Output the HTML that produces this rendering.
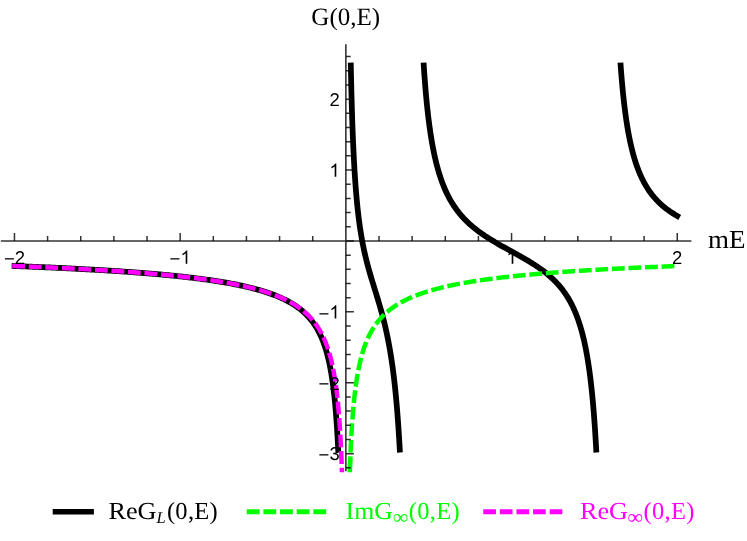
<!DOCTYPE html>
<html><head><meta charset="utf-8"><title>G(0,E)</title>
<style>html,body{margin:0;padding:0;background:#fff}svg{display:block;will-change:transform;transform:translateZ(0)}text{text-rendering:geometricPrecision}</style></head>
<body><svg width="747" height="541" viewBox="0 0 747 541">
<defs><clipPath id="cp"><rect x="0" y="0" width="747" height="472.2"/></clipPath></defs><g>
<path d="M11.662,265.911 L14.460,266.017 L16.015,266.076 L17.571,266.135 L19.126,266.195 L20.681,266.256 L22.237,266.316 L23.792,266.378 L25.347,266.439 L26.902,266.501 L28.458,266.564 L30.013,266.627 L31.568,266.690 L33.124,266.754 L34.679,266.819 L36.234,266.883 L37.790,266.949 L39.345,267.015 L40.900,267.081 L42.456,267.148 L44.011,267.215 L45.566,267.283 L47.122,267.352 L48.677,267.421 L50.232,267.490 L51.787,267.560 L53.343,267.631 L54.898,267.702 L56.453,267.774 L58.009,267.846 L59.564,267.919 L61.119,267.993 L62.675,268.067 L64.230,268.142 L65.785,268.217 L67.341,268.293 L68.896,268.370 L70.451,268.447 L72.007,268.525 L73.562,268.604 L75.117,268.683 L76.672,268.763 L78.228,268.844 L79.783,268.925 L81.338,269.008 L82.894,269.090 L84.449,269.174 L86.004,269.258 L87.560,269.343 L89.115,269.429 L90.670,269.516 L92.226,269.603 L93.781,269.692 L95.336,269.781 L96.892,269.871 L98.447,269.962 L100.002,270.053 L101.557,270.146 L103.113,270.239 L104.668,270.333 L106.223,270.429 L107.779,270.525 L109.334,270.622 L110.889,270.720 L112.445,270.819 L114.000,270.919 L115.555,271.020 L117.111,271.122 L118.666,271.225 L120.221,271.329 L121.777,271.435 L123.332,271.541 L124.887,271.648 L126.442,271.757 L127.998,271.867 L129.553,271.978 L131.108,272.090 L132.664,272.203 L134.219,272.318 L135.774,272.434 L137.330,272.551 L138.885,272.670 L140.440,272.790 L141.996,272.911 L143.551,273.034 L145.106,273.158 L146.662,273.283 L148.217,273.410 L149.772,273.539 L151.327,273.669 L152.883,273.801 L154.438,273.934 L155.993,274.069 L157.549,274.205 L159.104,274.343 L160.659,274.483 L162.215,274.625 L163.770,274.769 L165.325,274.914 L166.881,275.062 L168.436,275.211 L169.991,275.362 L171.547,275.515 L173.102,275.671 L174.657,275.828 L176.212,275.988 L177.768,276.150 L179.323,276.314 L180.878,276.480 L182.434,276.649 L183.989,276.820 L185.544,276.994 L187.100,277.171 L188.655,277.349 L190.210,277.531 L191.766,277.715 L193.321,277.903 L194.876,278.093 L196.432,278.286 L197.987,278.482 L199.542,278.681 L201.097,278.884 L202.653,279.089 L204.208,279.299 L205.763,279.511 L207.319,279.728 L208.874,279.948 L210.429,280.171 L211.985,280.399 L213.540,280.631 L215.095,280.867 L216.651,281.107 L218.206,281.351 L219.761,281.600 L221.316,281.854 L222.872,282.113 L224.427,282.376 L225.982,282.645 L227.538,282.919 L229.093,283.199 L230.648,283.484 L232.204,283.775 L233.759,284.073 L235.314,284.376 L236.870,284.687 L238.425,285.004 L239.980,285.328 L241.536,285.659 L243.091,285.998 L244.646,286.345 L246.201,286.700 L247.757,287.064 L249.312,287.436 L250.867,287.818 L252.423,288.210 L253.978,288.612 L255.533,289.024 L257.089,289.447 L258.644,289.882 L260.199,290.329 L261.755,290.788 L263.310,291.261 L264.865,291.748 L266.421,292.250 L267.846,292.723 L269.272,293.210 L270.698,293.711 L272.123,294.227 L273.549,294.758 L274.975,295.307 L276.400,295.873 L277.826,296.457 L279.252,297.061 L280.678,297.685 L282.103,298.332 L283.529,299.001 L284.955,299.695 L286.380,300.416 L287.806,301.164 L289.232,301.942 L290.657,302.752 L291.954,303.518 L293.250,304.314 L294.546,305.143 L295.842,306.006 L297.138,306.905 L298.434,307.845 L299.730,308.828 L301.026,309.856 L302.193,310.825 L303.359,311.837 L304.526,312.896 L305.692,314.006 L306.859,315.171 L307.896,316.257 L308.932,317.393 L309.969,318.585 L311.006,319.837 L312.043,321.153 L312.950,322.363 L313.858,323.631 L314.765,324.963 L315.672,326.364 L316.579,327.839 L317.357,329.169 L318.135,330.563 L318.912,332.028 L319.690,333.570 L320.468,335.194 L321.116,336.617 L321.764,338.108 L322.412,339.672 L323.060,341.316 L323.708,343.046 L324.226,344.497 L324.745,346.013 L325.263,347.597 L325.782,349.256 L326.300,350.996 L326.818,352.821 L327.337,354.741 L327.726,356.247 L328.115,357.814 L328.503,359.445 L328.892,361.146 L329.281,362.921 L329.670,364.775 L330.059,366.715 L330.448,368.745 L330.836,370.875 L331.096,372.353 L331.355,373.880 L331.614,375.461 L331.873,377.096 L332.132,378.790 L332.392,380.545 L332.651,382.366 L332.910,384.256 L333.169,386.219 L333.429,388.261 L333.688,390.385 L333.947,392.597 L334.206,394.904 L334.465,397.311 L334.725,399.826 L334.984,402.456 L335.243,405.209 L335.502,408.095 L335.632,409.591 L335.762,411.124 L335.891,412.695 L336.021,414.307 L336.150,415.960 L336.280,417.657 L336.410,419.398 L336.539,421.187 L336.669,423.024 L336.798,424.913 L336.928,426.855 L337.058,428.852 L337.187,430.908 L337.317,433.024 L337.446,435.203 L337.576,437.450 L337.706,439.766 L337.835,442.154 L337.965,444.620 L338.095,447.166 L338.224,449.796 L338.354,452.516" stroke="#000" stroke-width="5.75" fill="none" stroke-linejoin="round"/>
<path d="M350.744,62.636 L350.784,64.587 L350.823,66.506 L350.863,68.396 L350.902,70.257 L350.941,72.089 L350.981,73.894 L351.020,75.672 L351.059,77.423 L351.099,79.148 L351.138,80.848 L351.178,82.523 L351.217,84.174 L351.256,85.802 L351.296,87.406 L351.335,88.988 L351.374,90.547 L351.414,92.085 L351.453,93.601 L351.512,95.838 L351.571,98.028 L351.630,100.175 L351.689,102.279 L351.748,104.342 L351.807,106.365 L351.866,108.349 L351.925,110.296 L351.985,112.205 L352.044,114.079 L352.103,115.919 L352.162,117.725 L352.221,119.498 L352.280,121.239 L352.339,122.950 L352.398,124.631 L352.457,126.282 L352.516,127.905 L352.575,129.500 L352.634,131.068 L352.693,132.610 L352.752,134.126 L352.831,136.109 L352.910,138.049 L352.988,139.948 L353.067,141.807 L353.146,143.627 L353.225,145.409 L353.303,147.155 L353.382,148.866 L353.461,150.543 L353.540,152.187 L353.618,153.799 L353.697,155.379 L353.776,156.930 L353.854,158.452 L353.953,160.314 L354.051,162.133 L354.150,163.911 L354.248,165.650 L354.347,167.350 L354.445,169.013 L354.543,170.640 L354.642,172.233 L354.740,173.793 L354.839,175.320 L354.957,177.112 L355.075,178.860 L355.193,180.567 L355.311,182.234 L355.429,183.863 L355.547,185.455 L355.665,187.011 L355.783,188.532 L355.921,190.265 L356.059,191.955 L356.197,193.604 L356.335,195.213 L356.472,196.783 L356.610,198.317 L356.748,199.815 L356.905,201.486 L357.063,203.114 L357.220,204.701 L357.378,206.250 L357.535,207.761 L357.712,209.418 L357.890,211.032 L358.067,212.605 L358.244,214.138 L358.421,215.633 L358.618,217.251 L358.815,218.828 L359.012,220.363 L359.208,221.860 L359.425,223.464 L359.641,225.026 L359.858,226.547 L360.094,228.162 L360.330,229.734 L360.566,231.264 L360.803,232.756 L361.059,234.329 L361.314,235.862 L361.570,237.355 L361.846,238.921 L362.121,240.447 L362.397,241.934 L362.692,243.487 L362.988,245.001 L363.283,246.478 L363.598,248.014 L363.913,249.514 L364.247,251.068 L364.582,252.585 L364.917,254.067 L365.271,255.601 L365.625,257.101 L365.979,258.568 L366.353,260.085 L366.727,261.571 L367.101,263.028 L367.495,264.534 L367.889,266.012 L368.282,267.464 L368.696,268.965 L369.109,270.443 L369.522,271.899 L369.955,273.404 L370.389,274.890 L370.822,276.359 L371.255,277.813 L371.688,279.255 L372.140,280.749 L372.593,282.233 L373.046,283.709 L373.498,285.178 L373.951,286.642 L374.404,288.104 L374.857,289.563 L375.309,291.023 L375.762,292.485 L376.215,293.950 L376.668,295.421 L377.120,296.899 L377.573,298.385 L378.026,299.881 L378.459,301.323 L378.892,302.777 L379.325,304.246 L379.758,305.729 L380.191,307.230 L380.604,308.679 L381.018,310.147 L381.431,311.635 L381.844,313.144 L382.238,314.603 L382.632,316.083 L383.025,317.588 L383.399,319.041 L383.773,320.517 L384.147,322.020 L384.521,323.550 L384.875,325.025 L385.230,326.528 L385.584,328.059 L385.919,329.533 L386.253,331.036 L386.588,332.567 L386.903,334.037 L387.218,335.537 L387.533,337.066 L387.848,338.627 L388.143,340.120 L388.438,341.644 L388.733,343.200 L389.009,344.681 L389.285,346.193 L389.560,347.737 L389.836,349.313 L390.092,350.807 L390.347,352.332 L390.603,353.889 L390.859,355.478 L391.095,356.977 L391.332,358.505 L391.568,360.065 L391.804,361.659 L392.021,363.149 L392.237,364.669 L392.454,366.220 L392.670,367.803 L392.887,369.419 L393.083,370.919 L393.280,372.447 L393.477,374.006 L393.674,375.596 L393.871,377.219 L394.068,378.876 L394.245,380.397 L394.422,381.947 L394.599,383.527 L394.776,385.138 L394.953,386.782 L395.131,388.459 L395.288,389.979 L395.445,391.526 L395.603,393.103 L395.760,394.709 L395.918,396.346 L396.075,398.015 L396.233,399.716 L396.371,401.233 L396.508,402.776 L396.646,404.346 L396.784,405.945 L396.922,407.572 L397.060,409.230 L397.197,410.918 L397.335,412.638 L397.453,414.138 L397.571,415.663 L397.689,417.212 L397.807,418.788 L397.926,420.391 L398.044,422.020 L398.162,423.678 L398.280,425.365 L398.398,427.081 L398.516,428.828 L398.634,430.606 L398.733,432.112 L398.831,433.642 L398.929,435.194 L399.028,436.771 L399.126,438.372 L399.225,439.999 L399.323,441.652 L399.422,443.331 L399.520,445.037 L399.618,446.771 L399.717,448.533 L399.815,450.325 L399.914,452.148 L399.933,452.516" stroke="#000" stroke-width="5.75" fill="none" stroke-linejoin="round"/>
<path d="M423.571,62.636 L423.709,64.800 L423.848,66.917 L423.986,68.989 L424.124,71.017 L424.263,73.002 L424.401,74.946 L424.539,76.851 L424.677,78.716 L424.816,80.545 L424.954,82.337 L425.092,84.094 L425.231,85.816 L425.369,87.506 L425.507,89.164 L425.645,90.790 L425.784,92.385 L425.922,93.952 L426.060,95.489 L426.199,96.999 L426.406,99.213 L426.613,101.369 L426.821,103.468 L427.028,105.513 L427.236,107.506 L427.443,109.450 L427.651,111.345 L427.858,113.195 L428.065,114.999 L428.273,116.761 L428.480,118.482 L428.688,120.162 L428.895,121.805 L429.103,123.410 L429.310,124.979 L429.518,126.514 L429.725,128.015 L430.002,129.966 L430.278,131.863 L430.555,133.707 L430.831,135.500 L431.108,137.246 L431.384,138.944 L431.661,140.599 L431.938,142.211 L432.214,143.781 L432.491,145.313 L432.767,146.806 L433.113,148.622 L433.459,150.384 L433.804,152.094 L434.150,153.754 L434.496,155.368 L434.842,156.936 L435.187,158.460 L435.533,159.944 L435.948,161.672 L436.363,163.346 L436.778,164.968 L437.193,166.541 L437.607,168.067 L438.022,169.548 L438.506,171.223 L438.990,172.843 L439.474,174.410 L439.958,175.928 L440.442,177.399 L440.926,178.825 L441.480,180.403 L442.033,181.928 L442.586,183.403 L443.139,184.831 L443.761,186.383 L444.384,187.882 L445.006,189.331 L445.628,190.731 L446.320,192.234 L447.011,193.684 L447.703,195.085 L448.394,196.438 L449.155,197.876 L449.915,199.263 L450.676,200.602 L451.436,201.896 L452.266,203.260 L453.096,204.577 L453.926,205.849 L454.824,207.179 L455.723,208.463 L456.622,209.703 L457.590,210.993 L458.558,212.239 L459.526,213.443 L460.494,214.607 L461.531,215.814 L462.569,216.980 L463.606,218.110 L464.643,219.204 L465.749,220.335 L466.856,221.431 L467.962,222.494 L469.068,223.526 L470.244,224.590 L471.419,225.624 L472.595,226.629 L473.770,227.606 L474.946,228.559 L476.190,229.541 L477.435,230.499 L478.679,231.433 L479.924,232.345 L481.169,233.237 L482.413,234.110 L483.658,234.965 L484.902,235.803 L486.216,236.672 L487.530,237.523 L488.844,238.360 L490.157,239.184 L491.471,239.994 L492.785,240.793 L494.099,241.581 L495.412,242.359 L496.726,243.128 L498.040,243.889 L499.354,244.643 L500.667,245.390 L501.981,246.132 L503.295,246.868 L504.609,247.601 L505.922,248.330 L507.236,249.056 L508.550,249.780 L509.933,250.542 L511.316,251.302 L512.698,252.063 L514.081,252.825 L515.395,253.550 L516.709,254.279 L518.023,255.010 L519.336,255.745 L520.650,256.485 L521.964,257.231 L523.278,257.983 L524.591,258.742 L525.905,259.509 L527.219,260.285 L528.533,261.071 L529.846,261.868 L531.160,262.677 L532.474,263.499 L533.788,264.335 L535.101,265.187 L536.415,266.055 L537.660,266.894 L538.904,267.750 L540.149,268.625 L541.393,269.520 L542.638,270.437 L543.883,271.377 L545.127,272.341 L546.303,273.276 L547.478,274.237 L548.654,275.225 L549.829,276.242 L551.005,277.290 L552.111,278.307 L553.217,279.355 L554.324,280.437 L555.430,281.556 L556.536,282.712 L557.573,283.834 L558.611,284.995 L559.648,286.197 L560.616,287.359 L561.584,288.563 L562.552,289.810 L563.520,291.104 L564.419,292.351 L565.318,293.644 L566.216,294.987 L567.046,296.273 L567.876,297.607 L568.706,298.992 L569.466,300.309 L570.227,301.675 L570.987,303.093 L571.679,304.429 L572.370,305.814 L573.062,307.249 L573.753,308.740 L574.375,310.130 L574.998,311.570 L575.620,313.062 L576.242,314.610 L576.796,316.036 L577.349,317.510 L577.902,319.037 L578.455,320.619 L578.939,322.051 L579.423,323.529 L579.907,325.057 L580.391,326.637 L580.875,328.272 L581.290,329.719 L581.705,331.211 L582.120,332.750 L582.535,334.338 L582.949,335.978 L583.364,337.672 L583.779,339.423 L584.125,340.928 L584.471,342.477 L584.816,344.072 L585.162,345.715 L585.508,347.408 L585.853,349.153 L586.199,350.953 L586.476,352.435 L586.752,353.955 L587.029,355.516 L587.306,357.118 L587.582,358.763 L587.859,360.454 L588.135,362.192 L588.412,363.979 L588.688,365.818 L588.965,367.711 L589.242,369.659 L589.449,371.159 L589.656,372.693 L589.864,374.263 L590.071,375.869 L590.279,377.513 L590.486,379.197 L590.694,380.922 L590.901,382.688 L591.108,384.499 L591.316,386.356 L591.523,388.260 L591.731,390.213 L591.938,392.218 L592.146,394.276 L592.353,396.390 L592.561,398.562 L592.768,400.794 L592.906,402.316 L593.045,403.868 L593.183,405.449 L593.321,407.061 L593.459,408.703 L593.598,410.379 L593.736,412.087 L593.874,413.830 L594.013,415.608 L594.151,417.423 L594.289,419.275 L594.427,421.166 L594.566,423.097 L594.704,425.069 L594.842,427.084 L594.981,429.142 L595.119,431.247 L595.257,433.398 L595.395,435.599 L595.534,437.849 L595.672,440.152 L595.810,442.509 L595.949,444.921 L596.087,447.392 L596.225,449.923 L596.363,452.516" stroke="#000" stroke-width="5.75" fill="none" stroke-linejoin="round"/>
<path d="M620.441,62.636 L620.555,64.235 L620.668,65.805 L620.782,67.349 L620.896,68.867 L621.032,70.655 L621.169,72.407 L621.305,74.125 L621.441,75.809 L621.578,77.461 L621.714,79.082 L621.851,80.672 L621.987,82.232 L622.123,83.763 L622.260,85.267 L622.419,86.986 L622.578,88.669 L622.737,90.317 L622.897,91.932 L623.056,93.514 L623.215,95.063 L623.374,96.583 L623.556,98.282 L623.738,99.944 L623.920,101.569 L624.102,103.159 L624.283,104.715 L624.465,106.238 L624.647,107.729 L624.852,109.369 L625.057,110.972 L625.261,112.537 L625.466,114.068 L625.670,115.565 L625.898,117.189 L626.125,118.774 L626.353,120.321 L626.580,121.832 L626.830,123.453 L627.080,125.034 L627.330,126.575 L627.580,128.078 L627.853,129.677 L628.126,131.234 L628.399,132.750 L628.672,134.229 L628.967,135.788 L629.263,137.306 L629.558,138.784 L629.877,140.333 L630.195,141.840 L630.536,143.408 L630.877,144.931 L631.218,146.412 L631.582,147.946 L631.946,149.435 L632.332,150.971 L632.719,152.460 L633.128,153.989 L633.537,155.472 L633.969,156.988 L634.401,158.456 L634.856,159.954 L635.311,161.403 L635.788,162.876 L636.266,164.302 L636.766,165.747 L637.289,167.207 L637.812,168.618 L638.358,170.042 L638.926,171.474 L639.517,172.911 L640.108,174.298 L640.722,175.688 L641.359,177.078 L642.018,178.466 L642.700,179.850 L643.405,181.226 L644.110,182.552 L644.837,183.870 L645.588,185.180 L646.361,186.479 L647.157,187.765 L647.975,189.039 L648.816,190.298 L649.680,191.542 L650.567,192.770 L651.477,193.981 L652.409,195.174 L653.364,196.350 L654.341,197.508 L655.342,198.646 L656.365,199.767 L657.411,200.868 L658.479,201.950 L659.571,203.013 L660.685,204.057 L661.799,205.062 L662.936,206.050 L664.095,207.021 L665.278,207.975 L666.483,208.912 L667.688,209.815 L668.916,210.703 L670.166,211.576 L671.417,212.419 L672.690,213.248 L673.963,214.049 L675.259,214.839 L676.555,215.602 L677.260,216.007 L679.688,217.403" stroke="#000" stroke-width="5.75" fill="none" stroke-linejoin="round"/>
<path d="M349.939,466.900 L349.999,465.259 L350.059,463.642 L350.120,462.049 L350.181,460.478 L350.243,458.929 L350.305,457.401 L350.367,455.895 L350.430,454.410 L350.493,452.945 L350.557,451.500 L350.621,450.075 L350.686,448.669 L350.751,447.282 L350.817,445.913 L350.883,444.562 L350.949,443.229 L351.016,441.913 L351.083,440.614 L351.151,439.332 L351.219,438.066 L351.288,436.816 L351.357,435.582 L351.426,434.364 L351.496,433.160 L351.567,431.972 L351.638,430.798 L351.709,429.638 L351.780,428.493 L351.853,427.361 L351.925,426.243 L351.998,425.138 L352.071,424.047 L352.145,422.968 L352.220,421.902 L352.294,420.848 L352.369,419.806 L352.445,418.777 L352.521,417.759 L352.598,416.753 L352.674,415.758 L352.752,414.775 L352.830,413.802 L352.908,412.840 L352.986,411.889 L353.066,410.948 L353.145,410.018 L353.225,409.098 L353.305,408.188 L353.386,407.287 L353.467,406.396 L353.549,405.515 L353.631,404.643 L353.714,403.780 L353.797,402.926 L353.880,402.082 L353.964,401.246 L354.049,400.418 L354.133,399.599 L354.219,398.789 L354.304,397.986 L354.390,397.192 L354.477,396.406 L354.564,395.627 L354.651,394.857 L354.739,394.094 L354.827,393.339 L354.916,392.590 L355.005,391.850 L355.094,391.116 L355.184,390.390 L355.275,389.670 L355.366,388.958 L355.457,388.252 L355.549,387.553 L355.641,386.861 L355.734,386.175 L355.827,385.495 L355.920,384.822 L356.014,384.155 L356.108,383.494 L356.203,382.840 L356.298,382.191 L356.394,381.548 L356.490,380.911 L356.587,380.280 L356.684,379.654 L356.781,379.034 L356.879,378.420 L356.977,377.811 L357.076,377.207 L357.175,376.609 L357.275,376.016 L357.375,375.428 L357.475,374.845 L357.576,374.267 L357.677,373.694 L357.779,373.126 L357.881,372.563 L357.984,372.005 L358.087,371.451 L358.191,370.902 L358.295,370.358 L358.399,369.818 L358.504,369.283 L358.609,368.752 L358.715,368.225 L358.821,367.703 L358.928,367.185 L359.035,366.672 L359.142,366.162 L359.250,365.657 L359.358,365.155 L359.467,364.658 L359.576,364.164 L359.686,363.675 L359.796,363.189 L359.906,362.708 L360.017,362.230 L360.129,361.755 L360.240,361.285 L360.353,360.818 L360.465,360.355 L360.579,359.895 L360.692,359.439 L360.806,358.986 L360.921,358.537 L361.035,358.091 L361.151,357.648 L361.266,357.209 L361.383,356.773 L361.499,356.341 L361.616,355.911 L361.734,355.485 L361.852,355.062 L361.970,354.642 L362.089,354.225 L362.208,353.811 L362.328,353.400 L362.448,352.993 L362.568,352.588 L362.689,352.186 L362.811,351.787 L362.933,351.390 L363.055,350.997 L363.178,350.606 L363.301,350.218 L363.424,349.833 L363.548,349.451 L363.673,349.071 L363.798,348.694 L363.923,348.320 L364.049,347.948 L364.175,347.578 L364.302,347.212 L364.429,346.847 L364.556,346.486 L364.684,346.126 L364.813,345.769 L364.942,345.415 L365.071,345.063 L365.200,344.713 L365.331,344.366 L365.461,344.021 L365.592,343.678 L365.724,343.338 L365.856,342.999 L365.988,342.663 L366.121,342.330 L366.254,341.998 L366.387,341.669 L366.522,341.341 L366.656,341.016 L366.791,340.693 L366.926,340.372 L367.062,340.053 L367.198,339.736 L367.335,339.421 L367.472,339.108 L367.610,338.798 L367.748,338.489 L367.886,338.182 L368.025,337.877 L368.164,337.573 L368.304,337.272 L368.444,336.973 L368.585,336.675 L368.726,336.380 L368.867,336.086 L369.009,335.794 L369.152,335.503 L369.295,335.215 L369.438,334.928 L369.581,334.643 L369.726,334.360 L369.870,334.078 L370.015,333.798 L370.160,333.520 L370.306,333.243 L370.453,332.969 L370.599,332.695 L370.746,332.424 L370.894,332.154 L371.042,331.885 L371.191,331.618 L371.339,331.353 L371.489,331.089 L371.639,330.827 L371.789,330.566 L371.939,330.307 L372.091,330.049 L372.242,329.793 L372.394,329.538 L372.546,329.285 L372.699,329.033 L372.853,328.783 L373.006,328.534 L373.160,328.286 L373.315,328.040 L373.470,327.795 L373.625,327.551 L373.781,327.309 L373.938,327.069 L374.094,326.829 L374.252,326.591 L374.409,326.354 L374.567,326.119 L374.726,325.885 L374.885,325.652 L375.044,325.420 L375.204,325.190 L375.364,324.961 L375.525,324.733 L375.686,324.506 L375.848,324.281 L376.010,324.057 L376.172,323.834 L376.335,323.612 L376.498,323.392 L376.662,323.172 L376.826,322.954 L376.991,322.737 L377.156,322.521 L377.321,322.306 L377.487,322.092 L377.654,321.880 L377.820,321.668 L377.988,321.458 L378.155,321.249 L378.323,321.041 L378.492,320.833 L378.661,320.627 L378.830,320.422 L379.000,320.218 L379.170,320.016 L379.341,319.814 L379.512,319.613 L379.684,319.413 L379.856,319.214 L380.028,319.017 L380.201,318.820 L380.375,318.624 L380.548,318.429 L380.723,318.235 L380.897,318.043 L381.072,317.851 L381.248,317.660 L381.424,317.470 L381.600,317.281 L381.777,317.092 L381.954,316.905 L382.132,316.719 L382.310,316.534 L382.489,316.349 L382.668,316.166 L382.847,315.983 L383.027,315.801 L383.207,315.620 L383.388,315.440 L383.569,315.261 L383.751,315.083 L383.933,314.905 L384.116,314.729 L384.299,314.553 L384.482,314.378 L384.666,314.204 L384.850,314.030 L385.035,313.858 L385.220,313.686 L385.405,313.515 L385.591,313.345 L385.778,313.176 L385.965,313.008 L386.152,312.840 L386.340,312.673 L386.528,312.507 L386.717,312.342 L386.906,312.177 L387.095,312.013 L387.285,311.850 L388.255,311.034 L389.225,310.246 L390.194,309.484 L391.164,308.747 L392.134,308.032 L393.104,307.340 L394.074,306.669 L395.044,306.018 L396.013,305.386 L396.983,304.772 L397.953,304.175 L398.923,303.594 L399.893,303.030 L400.862,302.480 L401.832,301.945 L402.802,301.423 L403.772,300.914 L404.742,300.419 L405.712,299.935 L406.681,299.463 L407.651,299.002 L408.621,298.551 L409.591,298.111 L410.561,297.681 L411.530,297.261 L412.500,296.850 L413.470,296.447 L414.440,296.054 L415.410,295.668 L416.379,295.290 L417.349,294.921 L418.319,294.558 L419.289,294.203 L420.259,293.855 L421.229,293.513 L422.198,293.178 L423.168,292.850 L424.138,292.527 L425.108,292.211 L426.078,291.900 L427.047,291.595 L428.017,291.295 L428.987,291.000 L429.957,290.711 L430.927,290.426 L431.897,290.147 L432.866,289.872 L433.836,289.601 L434.806,289.335 L435.776,289.074 L436.746,288.816 L437.715,288.563 L438.685,288.314 L439.655,288.068 L440.625,287.826 L441.595,287.588 L442.565,287.354 L443.534,287.123 L444.504,286.895 L445.474,286.671 L446.444,286.450 L447.414,286.232 L448.383,286.018 L449.353,285.806 L450.323,285.597 L451.293,285.392 L452.263,285.189 L453.232,284.988 L454.202,284.791 L455.172,284.596 L456.142,284.404 L457.112,284.214 L458.082,284.026 L459.051,283.841 L460.021,283.659 L460.991,283.479 L461.961,283.301 L462.931,283.125 L463.900,282.951 L464.870,282.780 L465.840,282.610 L466.810,282.443 L467.780,282.278 L468.750,282.114 L469.719,281.953 L470.689,281.793 L471.659,281.635 L472.629,281.480 L473.599,281.325 L474.568,281.173 L475.538,281.022 L476.508,280.873 L477.478,280.726 L478.448,280.580 L479.418,280.436 L480.387,280.293 L481.357,280.152 L482.327,280.013 L483.297,279.875 L484.267,279.738 L485.236,279.603 L486.206,279.469 L487.176,279.337 L488.146,279.206 L489.116,279.076 L490.086,278.948 L491.055,278.821 L492.025,278.695 L492.995,278.570 L493.965,278.447 L494.935,278.325 L495.904,278.204 L496.874,278.084 L497.844,277.965 L498.814,277.848 L499.784,277.731 L500.753,277.616 L501.723,277.502 L502.693,277.388 L503.663,277.276 L504.633,277.165 L505.603,277.055 L506.572,276.946 L507.542,276.838 L508.512,276.731 L509.482,276.624 L510.452,276.519 L511.421,276.415 L512.391,276.311 L513.361,276.209 L514.331,276.107 L515.301,276.007 L516.271,275.907 L517.240,275.808 L518.210,275.709 L519.180,275.612 L520.150,275.515 L521.120,275.420 L522.089,275.325 L523.059,275.230 L524.029,275.137 L524.999,275.044 L525.969,274.952 L526.939,274.861 L527.908,274.771 L528.878,274.681 L529.848,274.592 L530.818,274.504 L531.788,274.416 L532.757,274.329 L533.727,274.243 L534.697,274.157 L535.667,274.072 L536.637,273.988 L537.606,273.904 L538.576,273.821 L539.546,273.739 L540.516,273.657 L541.486,273.576 L542.456,273.495 L543.425,273.415 L544.395,273.336 L545.365,273.257 L546.335,273.179 L547.305,273.101 L548.274,273.024 L549.244,272.948 L550.214,272.872 L551.184,272.796 L552.154,272.721 L553.124,272.647 L554.093,272.573 L555.063,272.500 L556.033,272.427 L557.003,272.354 L557.973,272.282 L558.942,272.211 L559.912,272.140 L560.882,272.070 L561.852,272.000 L562.822,271.930 L563.792,271.861 L564.761,271.793 L565.731,271.725 L566.701,271.657 L567.671,271.590 L568.641,271.523 L569.610,271.457 L570.580,271.391 L571.550,271.325 L572.520,271.260 L573.490,271.196 L574.459,271.131 L575.429,271.068 L576.399,271.004 L577.369,270.941 L578.339,270.879 L579.309,270.816 L580.278,270.754 L581.248,270.693 L582.218,270.632 L583.188,270.571 L584.158,270.511 L585.127,270.451 L586.097,270.391 L587.067,270.332 L588.037,270.273 L589.007,270.215 L589.977,270.156 L590.946,270.099 L591.916,270.041 L592.886,269.984 L593.856,269.927 L594.826,269.871 L595.795,269.814 L596.765,269.759 L597.735,269.703 L598.705,269.648 L599.675,269.593 L600.645,269.538 L601.614,269.484 L602.584,269.430 L603.554,269.377 L604.524,269.323 L605.494,269.270 L606.463,269.218 L607.433,269.165 L608.403,269.113 L609.373,269.061 L610.343,269.009 L611.313,268.958 L612.282,268.907 L613.252,268.856 L614.222,268.806 L615.192,268.756 L616.162,268.706 L617.131,268.656 L618.101,268.607 L619.071,268.558 L620.041,268.509 L621.011,268.460 L621.980,268.412 L622.950,268.364 L623.920,268.316 L624.890,268.268 L625.860,268.221 L626.830,268.174 L627.799,268.127 L628.769,268.080 L629.739,268.034 L630.709,267.988 L631.679,267.942 L632.648,267.896 L633.618,267.851 L634.588,267.805 L635.558,267.760 L636.528,267.716 L637.498,267.671 L638.467,267.627 L639.437,267.583 L640.407,267.539 L641.377,267.495 L642.347,267.452 L643.316,267.409 L644.286,267.366 L645.256,267.323 L646.226,267.280 L647.196,267.238 L648.166,267.195 L649.135,267.153 L650.105,267.112 L651.075,267.070 L652.045,267.029 L653.015,266.987 L653.984,266.946 L654.954,266.906 L655.924,266.865 L656.894,266.825 L657.864,266.784 L658.833,266.744 L659.803,266.704 L660.773,266.665 L661.743,266.625 L662.713,266.586 L663.683,266.547 L664.652,266.508 L665.622,266.469 L666.592,266.430 L667.562,266.392 L668.532,266.354 L669.501,266.316 L670.471,266.278 L671.441,266.240 L672.411,266.202 L673.381,266.165 L674.351,266.128 L675.320,266.091 L676.290,266.054 L677.260,266.017" stroke="#00ff00" stroke-width="4.5" fill="none" clip-path="url(#cp)" stroke-dasharray="8.33 8.23" stroke-linecap="square" stroke-linejoin="round"/>
<path d="M349.829,470.000 L349.889,468.304 L349.948,466.633 L350.009,464.986 L350.070,463.363 L350.131,461.763 L350.192,460.187" stroke="#00ff00" stroke-width="4.5" fill="none" stroke-linecap="square"/>
<path d="M14.460,266.017 L15.430,266.054 L16.400,266.091 L17.369,266.128 L18.339,266.165 L19.309,266.202 L20.279,266.240 L21.249,266.278 L22.219,266.316 L23.188,266.354 L24.158,266.392 L25.128,266.430 L26.098,266.469 L27.068,266.508 L28.037,266.547 L29.007,266.586 L29.977,266.625 L30.947,266.665 L31.917,266.704 L32.887,266.744 L33.856,266.784 L34.826,266.825 L35.796,266.865 L36.766,266.906 L37.736,266.946 L38.705,266.987 L39.675,267.029 L40.645,267.070 L41.615,267.112 L42.585,267.153 L43.554,267.195 L44.524,267.238 L45.494,267.280 L46.464,267.323 L47.434,267.366 L48.404,267.409 L49.373,267.452 L50.343,267.495 L51.313,267.539 L52.283,267.583 L53.253,267.627 L54.222,267.671 L55.192,267.716 L56.162,267.760 L57.132,267.805 L58.102,267.851 L59.072,267.896 L60.041,267.942 L61.011,267.988 L61.981,268.034 L62.951,268.080 L63.921,268.127 L64.890,268.174 L65.860,268.221 L66.830,268.268 L67.800,268.316 L68.770,268.364 L69.740,268.412 L70.709,268.460 L71.679,268.509 L72.649,268.558 L73.619,268.607 L74.589,268.656 L75.558,268.706 L76.528,268.756 L77.498,268.806 L78.468,268.856 L79.438,268.907 L80.407,268.958 L81.377,269.009 L82.347,269.061 L83.317,269.113 L84.287,269.165 L85.257,269.218 L86.226,269.270 L87.196,269.323 L88.166,269.377 L89.136,269.430 L90.106,269.484 L91.075,269.538 L92.045,269.593 L93.015,269.648 L93.985,269.703 L94.955,269.759 L95.925,269.814 L96.894,269.871 L97.864,269.927 L98.834,269.984 L99.804,270.041 L100.774,270.099 L101.743,270.156 L102.713,270.215 L103.683,270.273 L104.653,270.332 L105.623,270.391 L106.593,270.451 L107.562,270.511 L108.532,270.571 L109.502,270.632 L110.472,270.693 L111.442,270.754 L112.411,270.816 L113.381,270.879 L114.351,270.941 L115.321,271.004 L116.291,271.068 L117.261,271.131 L118.230,271.196 L119.200,271.260 L120.170,271.325 L121.140,271.391 L122.110,271.457 L123.079,271.523 L124.049,271.590 L125.019,271.657 L125.989,271.725 L126.959,271.793 L127.928,271.861 L128.898,271.930 L129.868,272.000 L130.838,272.070 L131.808,272.140 L132.778,272.211 L133.747,272.282 L134.717,272.354 L135.687,272.427 L136.657,272.500 L137.627,272.573 L138.596,272.647 L139.566,272.721 L140.536,272.796 L141.506,272.872 L142.476,272.948 L143.446,273.024 L144.415,273.101 L145.385,273.179 L146.355,273.257 L147.325,273.336 L148.295,273.415 L149.264,273.495 L150.234,273.576 L151.204,273.657 L152.174,273.739 L153.144,273.821 L154.114,273.904 L155.083,273.988 L156.053,274.072 L157.023,274.157 L157.993,274.243 L158.963,274.329 L159.932,274.416 L160.902,274.504 L161.872,274.592 L162.842,274.681 L163.812,274.771 L164.781,274.861 L165.751,274.952 L166.721,275.044 L167.691,275.137 L168.661,275.230 L169.631,275.325 L170.600,275.420 L171.570,275.515 L172.540,275.612 L173.510,275.709 L174.480,275.808 L175.449,275.907 L176.419,276.007 L177.389,276.107 L178.359,276.209 L179.329,276.311 L180.299,276.415 L181.268,276.519 L182.238,276.624 L183.208,276.731 L184.178,276.838 L185.148,276.946 L186.117,277.055 L187.087,277.165 L188.057,277.276 L189.027,277.388 L189.997,277.502 L190.967,277.616 L191.936,277.731 L192.906,277.848 L193.876,277.965 L194.846,278.084 L195.816,278.204 L196.785,278.325 L197.755,278.447 L198.725,278.570 L199.695,278.695 L200.665,278.821 L201.634,278.948 L202.604,279.076 L203.574,279.206 L204.544,279.337 L205.514,279.469 L206.484,279.603 L207.453,279.738 L208.423,279.875 L209.393,280.013 L210.363,280.152 L211.333,280.293 L212.302,280.436 L213.272,280.580 L214.242,280.726 L215.212,280.873 L216.182,281.022 L217.152,281.173 L218.121,281.325 L219.091,281.480 L220.061,281.635 L221.031,281.793 L222.001,281.953 L222.970,282.114 L223.940,282.278 L224.910,282.443 L225.880,282.610 L226.850,282.780 L227.820,282.951 L228.789,283.125 L229.759,283.301 L230.729,283.479 L231.699,283.659 L232.669,283.841 L233.638,284.026 L234.608,284.214 L235.578,284.404 L236.548,284.596 L237.518,284.791 L238.488,284.988 L239.457,285.189 L240.427,285.392 L241.397,285.597 L242.367,285.806 L243.337,286.018 L244.306,286.232 L245.276,286.450 L246.246,286.671 L247.216,286.895 L248.186,287.123 L249.155,287.354 L250.125,287.588 L251.095,287.826 L252.065,288.068 L253.035,288.314 L254.005,288.563 L254.974,288.816 L255.944,289.074 L256.914,289.335 L257.884,289.601 L258.854,289.872 L259.823,290.147 L260.793,290.426 L261.763,290.711 L262.733,291.000 L263.703,291.295 L264.673,291.595 L265.642,291.900 L266.612,292.211 L267.582,292.527 L268.552,292.850 L269.522,293.178 L270.491,293.513 L271.461,293.855 L272.431,294.203 L273.401,294.558 L274.371,294.921 L275.341,295.290 L276.310,295.668 L277.280,296.054 L278.250,296.447 L279.220,296.850 L280.190,297.261 L281.159,297.681 L282.129,298.111 L283.099,298.551 L284.069,299.002 L285.039,299.463 L286.008,299.935 L286.978,300.419 L287.948,300.914 L288.918,301.423 L289.888,301.945 L290.858,302.480 L291.827,303.030 L292.797,303.594 L293.767,304.175 L294.737,304.772 L295.707,305.386 L296.676,306.018 L297.646,306.669 L298.616,307.340 L299.586,308.032 L300.556,308.747 L301.526,309.484 L302.495,310.246 L303.465,311.034 L304.435,311.850 L304.628,312.016 L304.821,312.183 L305.013,312.350 L305.205,312.519 L305.397,312.688 L305.588,312.858 L305.778,313.028 L305.969,313.200 L306.158,313.372 L306.347,313.546 L306.536,313.720 L306.725,313.894 L306.912,314.070 L307.100,314.247 L307.287,314.424 L307.473,314.602 L307.659,314.782 L307.845,314.962 L308.030,315.142 L308.215,315.324 L308.399,315.507 L308.583,315.691 L308.766,315.875 L308.949,316.060 L309.131,316.247 L309.313,316.434 L309.495,316.622 L309.676,316.811 L309.857,317.001 L310.037,317.192 L310.217,317.384 L310.396,317.577 L310.575,317.771 L310.753,317.966 L310.931,318.162 L311.108,318.359 L311.285,318.557 L311.462,318.756 L311.638,318.956 L311.814,319.157 L311.989,319.359 L312.164,319.562 L312.338,319.766 L312.512,319.971 L312.685,320.177 L312.858,320.384 L313.031,320.593 L313.203,320.802 L313.374,321.013 L313.546,321.225 L313.716,321.438 L313.886,321.652 L314.056,321.867 L314.226,322.083 L314.394,322.300 L314.563,322.519 L314.731,322.739 L314.898,322.960 L315.065,323.182 L315.232,323.405 L315.398,323.630 L315.564,323.856 L315.729,324.083 L315.894,324.311 L316.058,324.541 L316.222,324.771 L316.386,325.003 L316.549,325.237 L316.711,325.472 L316.873,325.708 L317.035,325.945 L317.196,326.184 L317.357,326.423 L317.517,326.665 L317.677,326.908 L317.836,327.152 L317.995,327.397 L318.154,327.644 L318.312,327.892 L318.469,328.142 L318.627,328.393 L318.783,328.646 L318.939,328.900 L319.095,329.156 L319.251,329.413 L319.405,329.671 L319.560,329.931 L319.714,330.193 L319.867,330.456 L320.020,330.721 L320.173,330.987 L320.325,331.255 L320.477,331.524 L320.628,331.795 L320.779,332.068 L320.929,332.342 L321.079,332.618 L321.229,332.896 L321.378,333.175 L321.526,333.456 L321.674,333.739 L321.822,334.024 L321.969,334.310 L322.116,334.598 L322.262,334.888 L322.408,335.179 L322.553,335.473 L322.698,335.768 L322.843,336.065 L322.987,336.364 L323.130,336.665 L323.273,336.968 L323.416,337.272 L323.558,337.579 L323.700,337.887 L323.841,338.198 L323.982,338.511 L324.122,338.825 L324.262,339.142 L324.402,339.460 L324.541,339.781 L324.680,340.104 L324.818,340.429 L324.955,340.756 L325.093,341.085 L325.229,341.417 L325.366,341.750 L325.502,342.086 L325.637,342.424 L325.772,342.765 L325.907,343.107 L326.041,343.452 L326.174,343.799 L326.307,344.149 L326.440,344.501 L326.572,344.856 L326.704,345.212 L326.836,345.572 L326.967,345.934 L327.097,346.298 L327.227,346.665 L327.357,347.034 L327.486,347.406 L327.614,347.781 L327.743,348.158 L327.870,348.538 L327.998,348.921 L328.124,349.306 L328.251,349.695 L328.377,350.085 L328.502,350.479 L328.627,350.876 L328.752,351.275 L328.876,351.678 L329.000,352.083 L329.123,352.492 L329.246,352.903 L329.368,353.317 L329.490,353.735 L329.611,354.156 L329.732,354.579 L329.853,355.006 L329.973,355.436 L330.092,355.870 L330.212,356.307 L330.330,356.747 L330.449,357.190 L330.566,357.637 L330.684,358.087 L330.801,358.541 L330.917,358.998 L331.033,359.459 L331.149,359.924 L331.264,360.392 L331.378,360.863 L331.493,361.339 L331.606,361.818 L331.720,362.302 L331.832,362.789 L331.945,363.280 L332.057,363.775 L332.168,364.274 L332.279,364.777 L332.390,365.284 L332.500,365.795 L332.610,366.311 L332.719,366.831 L332.828,367.355 L332.936,367.883 L333.044,368.416 L333.151,368.954 L333.258,369.496 L333.365,370.043 L333.471,370.594 L333.576,371.150 L333.681,371.711 L333.786,372.277 L333.890,372.847 L333.994,373.423 L334.097,374.004 L334.200,374.589 L334.303,375.180 L334.405,375.776 L334.506,376.378 L334.607,376.985 L334.708,377.597 L334.808,378.215 L334.908,378.839 L335.007,379.468 L335.106,380.103 L335.204,380.744 L335.302,381.390 L335.400,382.043 L335.497,382.702 L335.593,383.367 L335.689,384.038 L335.785,384.716 L335.880,385.400 L335.975,386.091 L336.069,386.788 L336.163,387.492 L336.257,388.203 L336.350,388.921 L336.442,389.646 L336.534,390.378 L336.626,391.117 L336.717,391.864 L336.807,392.618 L336.898,393.379 L336.987,394.148 L337.077,394.926 L337.166,395.711 L337.254,396.504 L337.342,397.305 L337.430,398.114 L337.517,398.932 L337.603,399.759 L337.689,400.594 L337.775,401.438 L337.860,402.291 L337.945,403.153 L338.030,404.025 L338.114,404.905 L338.197,405.796 L338.280,406.696 L338.363,407.606 L338.445,408.526 L338.526,409.456 L338.607,410.397 L338.688,411.348 L338.769,412.310 L338.848,413.283 L338.928,414.266 L339.007,415.262 L339.085,416.268 L339.163,417.287 L339.241,418.317 L339.318,419.360 L339.395,420.414 L339.471,421.482 L339.547,422.562 L339.622,423.655 L339.697,424.761 L339.771,425.881 L339.845,427.015 L339.919,428.162 L339.992,429.324 L340.064,430.500 L340.136,431.691 L340.208,432.897 L340.279,434.119 L340.350,435.356 L340.421,436.609 L340.490,437.878 L340.560,439.164 L340.629,440.467 L340.697,441.787 L340.766,443.125 L340.833,444.480 L340.900,445.854 L340.967,447.247 L341.033,448.658 L341.099,450.089 L341.165,451.540 L341.229,453.011 L341.294,454.503 L341.358,456.016 L341.422,457.551 L341.485,459.108 L341.547,460.687 L341.610,462.289 L341.671,463.915 L341.733,465.565 L341.793,467.239 L341.854,468.939 L341.914,470.664 L341.973,472.415 L342.032,474.194 L342.091,476.000" stroke="#ff00ff" stroke-width="4.5" fill="none" clip-path="url(#cp)" stroke-dasharray="8.33 8.23" stroke-linecap="square" stroke-linejoin="round"/>
<path d="M0.8,240.95 H691.4 M345.86,44.2 V471.3" stroke="#000" stroke-opacity="0.8" stroke-width="1.6" fill="none"/>
<path d="M14.46,240.95 v-8.0 M47.60,240.95 v-4.9 M80.74,240.95 v-4.9 M113.88,240.95 v-4.9 M147.02,240.95 v-4.9 M180.16,240.95 v-8.0 M213.30,240.95 v-4.9 M246.44,240.95 v-4.9 M279.58,240.95 v-4.9 M312.72,240.95 v-4.9 M379.00,240.95 v-4.9 M412.14,240.95 v-4.9 M445.28,240.95 v-4.9 M478.42,240.95 v-4.9 M511.56,240.95 v-8.0 M544.70,240.95 v-4.9 M577.84,240.95 v-4.9 M610.98,240.95 v-4.9 M644.12,240.95 v-4.9 M677.26,240.95 v-8.0 M345.86,467.83 h4.9 M345.86,453.65 h8.0 M345.86,439.47 h4.9 M345.86,425.29 h4.9 M345.86,411.11 h4.9 M345.86,396.93 h4.9 M345.86,382.75 h8.0 M345.86,368.57 h4.9 M345.86,354.39 h4.9 M345.86,340.21 h4.9 M345.86,326.03 h4.9 M345.86,311.85 h8.0 M345.86,297.67 h4.9 M345.86,283.49 h4.9 M345.86,269.31 h4.9 M345.86,255.13 h4.9 M345.86,240.95 h8.0 M345.86,226.77 h4.9 M345.86,212.59 h4.9 M345.86,198.41 h4.9 M345.86,184.23 h4.9 M345.86,170.05 h8.0 M345.86,155.87 h4.9 M345.86,141.69 h4.9 M345.86,127.51 h4.9 M345.86,113.33 h4.9 M345.86,99.15 h8.0 M345.86,84.97 h4.9 M345.86,70.79 h4.9 M345.86,56.61 h4.9" stroke="#000" stroke-opacity="0.8" stroke-width="1.5" fill="none"/>
<text x="3.91" y="264.65" font-family="Liberation Sans, sans-serif" font-size="18.5" fill="#000">−</text><text x="14.72" y="263.70" font-family="Liberation Sans, sans-serif" font-size="18.5" fill="#000">2</text>
<text x="169.61" y="264.65" font-family="Liberation Sans, sans-serif" font-size="18.5" fill="#000">−</text><path d="M763 0H583V1147Q518 1085 412.5 1023Q307 961 223 930V1104Q374 1175 487 1276Q600 1377 647 1472H763Z" transform="translate(180.42,263.70) scale(0.00903,-0.00903)" fill="#000"/>
<path d="M763 0H583V1147Q518 1085 412.5 1023Q307 961 223 930V1104Q374 1175 487 1276Q600 1377 647 1472H763Z" transform="translate(506.42,263.70) scale(0.00903,-0.00903)" fill="#000"/>
<text x="672.12" y="263.70" font-family="Liberation Sans, sans-serif" font-size="18.5" fill="#000">2</text>
<text x="329.41" y="105.90" font-family="Liberation Sans, sans-serif" font-size="18.5" fill="#000">2</text>
<path d="M763 0H583V1147Q518 1085 412.5 1023Q307 961 223 930V1104Q374 1175 487 1276Q600 1377 647 1472H763Z" transform="translate(329.41,176.80) scale(0.00903,-0.00903)" fill="#000"/>
<text x="318.61" y="319.55" font-family="Liberation Sans, sans-serif" font-size="18.5" fill="#000">−</text><path d="M763 0H583V1147Q518 1085 412.5 1023Q307 961 223 930V1104Q374 1175 487 1276Q600 1377 647 1472H763Z" transform="translate(329.41,318.60) scale(0.00903,-0.00903)" fill="#000"/>
<text x="318.61" y="390.45" font-family="Liberation Sans, sans-serif" font-size="18.5" fill="#000">−</text><text x="329.41" y="389.50" font-family="Liberation Sans, sans-serif" font-size="18.5" fill="#000">2</text>
<text x="318.61" y="461.35" font-family="Liberation Sans, sans-serif" font-size="18.5" fill="#000">−</text><text x="329.41" y="460.40" font-family="Liberation Sans, sans-serif" font-size="18.5" fill="#000">3</text>
<path d="M52.7,511.7 H93.9" stroke="#000" stroke-width="5.4"/>
<path d="M249.25,511.7 H325" stroke="#00ff00" stroke-width="5.0" stroke-dasharray="7.8 8.85" stroke-linecap="square"/>
<path d="M485.7,511.7 H561" stroke="#ff00ff" stroke-width="4.9" stroke-dasharray="7.8 8.8" stroke-linecap="square"/>
<text x="345.7" y="24.9" text-anchor="middle" font-family="Liberation Serif, serif" font-size="25" fill="#000">G(0,E)</text>
<text x="708" y="247.7" font-family="Liberation Serif, serif" font-size="26" textLength="37.5" lengthAdjust="spacingAndGlyphs" fill="#000">mE</text>
<text x="108.5" y="518.5" font-family="Liberation Serif, serif" fill="#000" font-size="24.5" textLength="48.0" lengthAdjust="spacingAndGlyphs">ReG</text><text x="156.6" y="523.0" font-family="Liberation Serif, serif" fill="#000" font-size="16.5" font-style="italic">L</text><text x="166.9" y="518.5" font-family="Liberation Serif, serif" fill="#000" font-size="24.5" letter-spacing="0.3">(0,E)</text>
<text x="345.6" y="518.5" font-family="Liberation Serif, serif" fill="#00ff00" font-size="24.5" textLength="47.3" lengthAdjust="spacingAndGlyphs">ImG</text><text x="392.8" y="523.9" font-family="Liberation Serif, serif" fill="#00ff00" font-size="21" textLength="15.6" lengthAdjust="spacingAndGlyphs">∞</text><text x="408.8" y="518.5" font-family="Liberation Serif, serif" fill="#00ff00" font-size="24.5" letter-spacing="0.3">(0,E)</text>
<text x="580.0" y="518.5" font-family="Liberation Serif, serif" fill="#ff00ff" font-size="24.5" textLength="48.0" lengthAdjust="spacingAndGlyphs">ReG</text><text x="627.5" y="523.9" font-family="Liberation Serif, serif" fill="#ff00ff" font-size="21" textLength="15.6" lengthAdjust="spacingAndGlyphs">∞</text><text x="643.6" y="518.5" font-family="Liberation Serif, serif" fill="#ff00ff" font-size="24.5" letter-spacing="0.3">(0,E)</text>
</g></svg></body></html>
